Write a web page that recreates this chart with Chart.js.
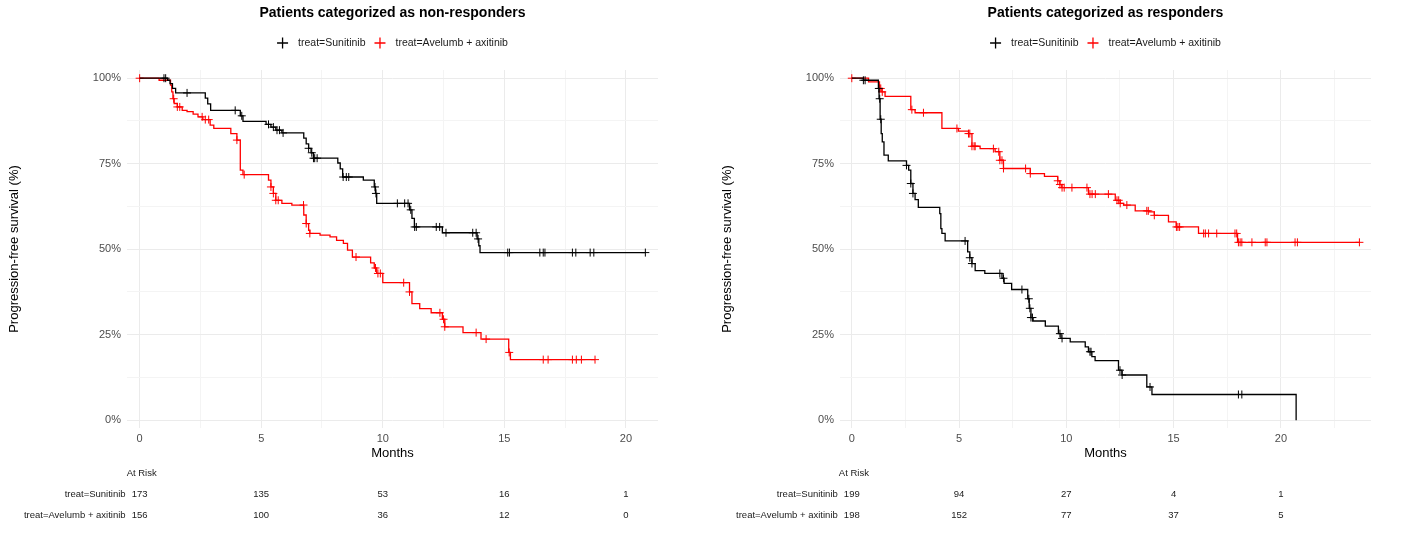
<!DOCTYPE html>
<html>
<head>
<meta charset="utf-8">
<script src="https://cdn.jsdelivr.net/npm/chart.js@4.4.1/dist/chart.umd.min.js"></script>
<style>
  body { margin: 0; background: #fff; }
  #wrap { position: relative; width: 1407px; height: 552px; overflow: hidden; }
  #c1 { position: absolute; left: 0; top: 0; }
  #c2 { position: absolute; left: 703px; top: 0; }
</style>
</head>
<body>
<div id="wrap">
  <canvas id="c1" width="703" height="552"></canvas>
  <canvas id="c2" width="704" height="552"></canvas>
</div>
<script>
// ===== Kaplan-Meier panels: non-responders (left) / responders (right) =====
const riskMonths = [0, 5, 10, 15, 20];
const groupLabels = ['treat=Sunitinib', 'treat=Avelumb + axitinib'];

// --- non-responders ---
const nrSunTime = [0, 1.15, 1.25, 1.35, 1.48, 2.7, 2.8, 2.92, 4.14, 4.25, 5.2, 5.4, 5.6, 5.85, 6.75, 6.85, 6.95, 7.05, 7.15, 8.15, 8.25, 8.35, 9.2, 9.65, 9.7, 9.75, 11.1, 11.2, 11.3, 12.45, 13.88, 13.95, 14.0, 20.8];
const nrSunSurv = [100, 99.4, 98.4, 97.0, 95.7, 94.2, 92.5, 90.6, 89.0, 87.4, 86.5, 85.7, 84.8, 84.0, 82.5, 80.8, 79.5, 78.2, 76.6, 75.2, 73.5, 71.1, 70.2, 68.2, 66.3, 63.4, 61.5, 59.0, 56.5, 54.8, 53.0, 51.0, 49.0, 49.0];
const nrSunCens = [1.0, 1.07, 1.95, 3.93, 4.2, 5.3, 5.5, 5.65, 5.75, 5.9, 6.95, 7.08, 7.15, 7.2, 7.3, 8.37, 8.5, 8.6, 9.68, 9.72, 10.6, 10.9, 11.04, 11.15, 11.31, 11.38, 12.2, 12.34, 12.6, 13.7, 13.84, 13.92, 15.14, 15.21, 16.46, 16.6, 16.67, 17.8, 17.94, 18.53, 18.68, 20.8];

const nrAveTime = [0, 0.8, 1.27, 1.32, 1.37, 1.42, 1.55, 1.75, 1.95, 2.2, 2.4, 2.6, 2.9, 3.05, 3.75, 4.0, 4.14, 4.25, 5.3, 5.4, 5.5, 5.6, 5.85, 6.26, 6.75, 6.85, 6.95, 7.0, 7.42, 7.83, 8.1, 8.38, 8.55, 8.75, 9.5, 9.65, 9.75, 10.0, 11.1, 11.2, 11.52, 11.99, 12.45, 12.55, 13.3, 14.04, 15.18, 15.25, 18.73];
const nrAveSurv = [100, 99.4, 98.0, 96.0, 94.0, 92.6, 91.6, 90.6, 90.2, 89.5, 88.7, 87.9, 86.3, 85.3, 83.8, 81.9, 73.1, 71.8, 70.2, 68.2, 66.3, 64.3, 63.4, 62.9, 60.0, 57.5, 55.5, 54.6, 54.1, 53.6, 52.6, 51.7, 49.7, 47.7, 46.0, 44.5, 42.9, 40.2, 37.5, 34.1, 32.6, 31.4, 29.5, 27.3, 25.6, 23.7, 19.8, 17.7, 17.7];
const nrAveCens = [0, 1.4, 1.55, 1.65, 2.57, 2.7, 2.84, 4.0, 4.3, 5.4, 5.5, 5.6, 5.7, 6.74, 6.85, 7.0, 8.9, 9.7, 9.8, 9.9, 10.86, 11.1, 12.35, 12.5, 12.55, 13.84, 14.25, 15.2, 16.6, 16.8, 17.8, 17.96, 18.17, 18.73];

const nrRiskSun = [173, 135, 53, 16, 1];
const nrRiskAve = [156, 100, 36, 12, 0];

// --- responders ---
const rSunTime = [0, 0.54, 1.24, 1.27, 1.32, 1.37, 1.42, 1.5, 1.7, 2.55, 2.65, 2.75, 2.85, 2.95, 3.1, 4.1, 4.15, 4.2, 4.35, 5.4, 5.5, 5.6, 5.75, 6.2, 7.0, 7.1, 7.45, 8.2, 8.27, 8.35, 8.45, 9.02, 9.63, 9.75, 10.18, 10.88, 11.03, 11.19, 11.34, 12.43, 12.59, 13.75, 13.99, 20.71];
const rSunSurv = [100, 99.4, 97.0, 94.0, 88.0, 83.8, 81.4, 77.5, 75.8, 74.5, 73.1, 69.2, 66.3, 64.5, 62.2, 60.4, 56.0, 54.6, 52.4, 49.2, 47.5, 45.8, 43.7, 42.9, 41.5, 40.0, 38.2, 35.5, 32.7, 30.0, 29.0, 27.5, 25.3, 23.9, 22.9, 21.4, 20.0, 18.6, 17.4, 14.6, 13.2, 9.7, 7.5, 0];
const rSunCens = [0.54, 0.62, 1.26, 1.3, 1.35, 2.55, 2.75, 2.85, 5.28, 5.5, 5.6, 6.9, 7.07, 7.93, 8.25, 8.3, 8.35, 8.42, 9.7, 9.8, 11.1, 11.15, 12.5, 12.6, 13.9, 18.02, 18.18];

const rAveTime = [0, 0.78, 1.29, 1.4, 1.55, 2.75, 2.95, 4.2, 4.97, 5.44, 5.6, 5.98, 6.68, 6.9, 7.07, 8.32, 8.98, 9.6, 9.7, 9.79, 11.03, 12.28, 12.51, 12.67, 13.21, 13.85, 14.1, 14.76, 15.12, 16.16, 17.98, 23.66];
const rAveSurv = [100, 98.9, 97.0, 96.0, 94.7, 90.8, 89.9, 85.3, 84.5, 83.8, 80.1, 79.4, 78.5, 76.0, 73.6, 72.1, 71.3, 70.0, 68.9, 68.0, 66.1, 64.3, 63.4, 62.9, 61.2, 60.9, 59.9, 58.0, 56.5, 54.6, 52.0, 52.0];
const rAveCens = [0, 1.3, 1.35, 1.42, 2.8, 3.34, 4.9, 5.44, 5.5, 5.6, 5.7, 5.75, 6.6, 6.85, 6.9, 7.0, 7.07, 8.1, 8.32, 9.6, 9.7, 9.8, 9.9, 10.26, 10.96, 11.1, 11.2, 11.35, 11.96, 12.36, 12.44, 12.51, 12.82, 13.75, 13.82, 14.1, 15.13, 15.2, 15.28, 16.4, 16.48, 16.63, 17.01, 17.86, 17.94, 18.02, 18.1, 18.18, 18.65, 19.27, 19.35, 20.66, 20.77, 23.66];

const rRiskSun = [199, 94, 27, 4, 1];
const rRiskAve = [198, 152, 77, 37, 5];

const FONT = "'Liberation Sans', Arial, sans-serif";
const colSun = '#000000', colAve = '#ff0000';
Chart.defaults.font.family = FONT;

// survival value of a step curve at time t (used to place censor ticks)
function survAt(times, surv, t) {
  let s = surv[0];
  for (let i = 0; i < times.length; i++) if (times[i] <= t) s = surv[i];
  return s;
}

function curveSets(times, surv, cens, color) {
  return [
    { data: times.map((t, i) => ({ x: t, y: surv[i] })), stepped: true, borderColor: color,
      borderWidth: 1.3, pointRadius: 0, fill: false },
    { data: cens.map(t => ({ x: t, y: survAt(times, surv, t) })), showLine: false, pointStyle: 'cross',
      pointRadius: 4, borderColor: color, backgroundColor: color, borderWidth: 1 }
  ];
}

// title, legend and at-risk table
const kmExtras = {
  id: 'kmExtras',
  afterDraw(chart, args, o) {
    const ctx = chart.ctx, area = chart.chartArea, xs = chart.scales.x;
    const cx = (area.left + area.right) / 2;
    ctx.save();
    ctx.textBaseline = 'middle';
    ctx.fillStyle = '#000';
    ctx.textAlign = 'center';
    ctx.font = 'bold 14px ' + FONT;
    ctx.fillText(o.title, cx, 13);

    ctx.font = '10.5px ' + FONT;
    const cols = [colSun, colAve];
    const widths = groupLabels.map(l => 21 + ctx.measureText(l).width);
    let x = cx - (widths[0] + widths[1] + 9) / 2;
    groupLabels.forEach((l, i) => {
      ctx.strokeStyle = cols[i]; ctx.lineWidth = 1.3;
      ctx.beginPath();
      ctx.moveTo(x, 43); ctx.lineTo(x + 11, 43);
      ctx.moveTo(x + 5.5, 37.5); ctx.lineTo(x + 5.5, 48.5);
      ctx.stroke();
      ctx.fillStyle = '#1a1a1a'; ctx.textAlign = 'left';
      ctx.fillText(l, x + 21, 43);
      x += widths[i] + 9;
    });

    ctx.font = '9.5px ' + FONT;
    ctx.fillStyle = '#1a1a1a';
    const x0 = xs.getPixelForValue(0);
    ctx.textAlign = 'left';
    ctx.fillText('At Risk', x0 - 13, 473);
    o.risk.forEach((vals, r) => {
      const y = 494 + r * 21;
      ctx.textAlign = 'right';
      ctx.fillText(groupLabels[r], x0 - 14, y);
      ctx.textAlign = 'center';
      vals.forEach((v, i) => ctx.fillText(String(v), xs.getPixelForValue(riskMonths[i]), y));
    });
    ctx.restore();
  }
};

function makePanel(id, cfg) {
  const ctx = document.getElementById(id).getContext('2d');
  return new Chart(ctx, {
    type: 'line',
    data: { datasets: [...curveSets(cfg.sun[0], cfg.sun[1], cfg.sun[2], colSun), ...curveSets(cfg.ave[0], cfg.ave[1], cfg.ave[2], colAve)] },
    plugins: [kmExtras],
    options: {
      responsive: false, animation: false, events: [],
      layout: { padding: { left: 0, right: cfg.padRight, top: 70, bottom: 90 } },
      plugins: { legend: { display: false }, tooltip: { enabled: false },
        kmExtras: { title: cfg.title, risk: cfg.risk } },
      scales: {
        x: { type: 'linear', min: cfg.xMin, max: cfg.xMax,
          afterBuildTicks: s => { s.ticks = cfg.xTicks.map(v => ({ value: v })); },
          afterFit: s => { s.height = 34; },
          grid: { color: c => (c.tick && c.tick.value % 5 === 0) ? '#ebebeb' : '#f4f4f4', lineWidth: 1, drawTicks: false, tickLength: 0 },
          border: { display: false },
          ticks: { autoSkip: false, maxRotation: 0, padding: 4, color: '#4d4d4d', font: { size: 11 },
            callback: v => v % 5 === 0 ? v : '' },
          title: { display: true, text: 'Months', color: '#000', font: { size: 13 }, padding: { top: 0, bottom: 1 } } },
        y: { min: -2.3, max: 102.4,
          afterBuildTicks: s => { s.ticks = [0, 12.5, 25, 37.5, 50, 62.5, 75, 87.5, 100].map(v => ({ value: v })); },
          afterFit: s => { s.width = cfg.yWidth; },
          grid: { color: c => (c.tick && c.tick.value % 25 === 0) ? '#ebebeb' : '#f4f4f4', lineWidth: 1, drawTicks: false, tickLength: 0 },
          border: { display: false },
          ticks: { autoSkip: false, padding: 6, color: '#4d4d4d', font: { size: 11 },
            callback: v => v % 25 === 0 ? v + '%' : '' },
          title: { display: true, text: 'Progression-free survival (%)', color: '#000', font: { size: 13 },
            padding: { top: cfg.yTitlePad, bottom: cfg.yTitlePad } } }
      }
    }
  });
}

makePanel('c1', {
  title: 'Patients categorized as non-responders',
  sun: [nrSunTime, nrSunSurv, nrSunCens], ave: [nrAveTime, nrAveSurv, nrAveCens],
  risk: [nrRiskSun, nrRiskAve],
  xMin: -0.52, xMax: 21.32, xTicks: [0, 2.5, 5, 7.5, 10, 12.5, 15, 17.5, 20],
  yWidth: 127, padRight: 45, yTitlePad: 7
});

makePanel('c2', {
  title: 'Patients categorized as responders',
  sun: [rSunTime, rSunSurv, rSunCens], ave: [rAveTime, rAveSurv, rAveCens],
  risk: [rRiskSun, rRiskAve],
  xMin: -0.55, xMax: 24.2, xTicks: [0, 2.5, 5, 7.5, 10, 12.5, 15, 17.5, 20, 22.5],
  yWidth: 137, padRight: 36, yTitlePad: 17
});
</script>
</body>
</html>
